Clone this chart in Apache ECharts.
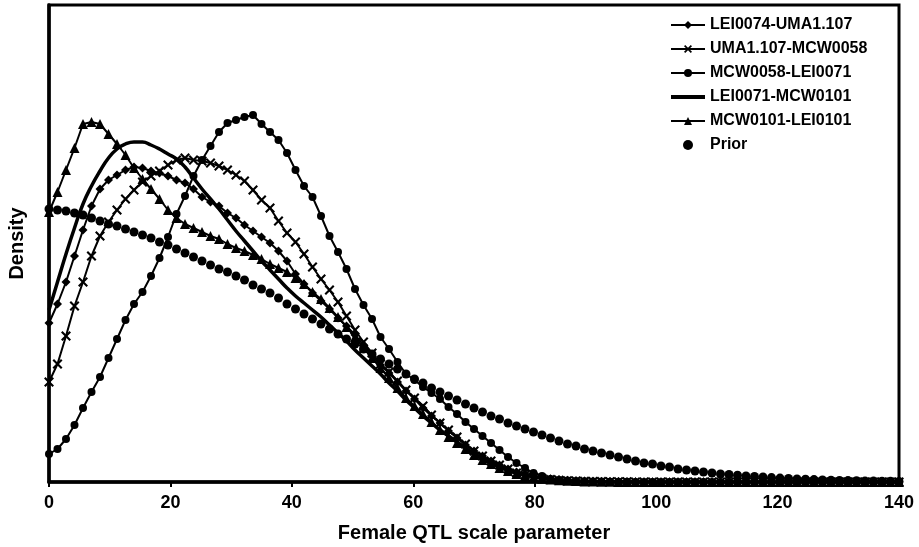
<!DOCTYPE html>
<html><head><meta charset="utf-8">
<script src="https://cdn.jsdelivr.net/npm/echarts@6/dist/echarts.min.js"></script>
<style>html,body{margin:0;padding:0;background:#fff}#c{width:919px;height:547px}</style>
</head><body><div id="c"></div>
<script>
// x positions (Female QTL scale parameter)
const xValues = [0,1.4,2.8,4.2,5.6,7,8.4,9.8,11.2,12.6,14,15.4,16.8,18.2,19.6,21,22.4,23.8,25.2,26.6,28,29.4,30.8,32.2,33.6,35,36.4,37.8,39.2,40.6,42,43.4,44.8,46.2,47.6,49,50.4,51.8,53.2,54.6,56,57.4,58.8,60.2,61.6,63,64.4,65.8,67.2,68.6,70,71.4,72.8,74.2,75.6,77,78.4,79.8,81.2,82.6,84,85.4,86.8,88.2,89.6,91,92.4,93.8,95.2,96.6,98,99.4,100.8,102.2,103.6,105,106.4,107.8,109.2,110.6,112,113.4,114.8,116.2,117.6,119,120.4,121.8,123.2,124.6,126,127.4,128.8,130.2,131.6,133,134.4,135.8,137.2,138.6,140];
const xTicks = [0,20,40,60,80,100,120,140];
const seriesNames = ['LEI0074-UMA1.107','UMA1.107-MCW0058','MCW0058-LEI0071','LEI0071-MCW0101','MCW0101-LEI0101','Prior'];

// densities (arbitrary units)
const lei0074_uma1107 = [159,178,200,226,252,276,293,302,307,312,
 315,314,311,309,306,302,299,293,285,280,
 276,269,264,257,251,245,239,231,221,208,
 198,189,181,173,164,156,147,137,127,117,
 109,100,91,83,74,66,59,51,44,37,
 31,26,21,17,13,10,8,6,4.5,3.3,
 2.4,1.8,1.3,1.0,0.8,0.6,0.5,0.4,0.3,0.3,
 0,0,0,0,0,0,0,0,0,0,0,0,0,0,0,0,0,0,0,0,0,0,0,0,0,0,0,0,0,0,0];
const uma1107_mcw0058 = [100,118,146,176,200,226,246,260,272,283,
 292,300,306,311,317,322,324,322,321,319,
 316,312,307,301,292,282,274,261,249,240,
 228,215,203,192,180,166,152,140,129,118,
 110,101,92,84,76,67,59,52,45,38,
 31,26,21,17,13,9,7,5,3.6,2.6,
 1.8,1.3,0.9,0.7,0.5,0.4,0.3,0.2,0.2,0.1,
 0,0,0,0,0,0,0,0,0,0,0,0,0,0,0,0,0,0,0,0,0,0,0,0,0,0,0,0,0,0,0];
const mcw0058_lei0071 = [28,33,43,57,74,90,105,124,143,162,
 178,190,206,224,245,268,286,306,322,336,
 350,359,362,365,367,358,350,342,329,312,
 296,285,266,246,230,213,193,177,163,145,
 133,120,108,102,95,89,83,75,68,60,
 53,46,39,32,25,19,14,9,6,3,
 2,1.5,1,0.8,0.5,0.4,0.3,0.2,0.2,0.1,
 0,0,0,0,0,0,0,0,0,0,0,0,0,0,0,0,0,0,0,0,0,0,0,0,0,0,0,0,0,0,0];
const lei0071_mcw0101 = [172,200,228,254,278,296,311,324,333,338,
 340,340,337,333,328,323,315,304,293,283,
 273,262,251,241,231,221,212,203,194,186,
 179,172,165,157,149,141,132,124,116,108,
 99,91,82,74,66,59,52,46,40,34,
 28,23,19,15,12,9,7,5,4,3,
 2.2,1.6,1.2,0.9,0.6,0.4,0.3,0.2,0.1,0.1,
 0,0,0,0,0,0,0,0,0,0,0,0,0,0,0,0,0,0,0,0,0,0,0,0,0,0,0,0,0,0,0];
const mcw0101_lei0101 = [270,290,312,334,358,360,358,348,338,327,
 314,303,293,283,272,264,258,254,250,246,
 243,238,234,231,227,223,218,214,210,204,
 198,190,183,174,165,155,145,134,124,114,
 104,94,84,76,68,60,52,45,39,33,
 27,22,18,14,11,8,6,4.5,3.3,2.4,
 1.7,1.2,0.9,0.6,0.4,0.3,0.2,0.1,0.1,0.1,
 0,0,0,0,0,0,0,0,0,0,0,0,0,0,0,0,0,0,0,0,0,0,0,0,0,0,0,0,0,0,0];
const prior = [273,272,271,269,267,264,261,258,256,253,
 250,247,244,240,237,233,229,225,221,217,
 213,210,206,202,197,193,189,184,178,173,
 168,163,158,153,148,143,138,133,128,123,
 118,113,108,103,99,94,90,86,82,78,
 74,70,66,63,59,56,53,50,47,44,
 41,38,36,33,31,29,27,25,23,21,
 19,18,16,15,13,12,11,10,9,8,
 7.5,6.8,6.1,5.5,5,4.4,3.9,3.5,3.1,2.7,
 2.4,2.1,1.8,1.6,1.4,1.2,1.0,0.9,0.8,0.7,0.6];

function pairs(ys){ return xValues.map((x,i)=>[x, ys[i]]); }
const FONT = 'Liberation Sans';
const crossPath = 'path://M0,1.5L1.5,0L5,3.5L8.5,0L10,1.5L6.5,5L10,8.5L8.5,10L5,6.5L1.5,10L0,8.5L3.5,5Z';
function lineSeries(name, ys, symbol, size, width){
  return {name, type:'line', data:pairs(ys), symbol, symbolSize:size, showAllSymbol:true,
    lineStyle:{color:'#000', width}, itemStyle:{color:'#000', opacity:1}, emphasis:{disabled:true}};
}
const legendData = seriesNames.map(n => n === 'LEI0071-MCW0101'
  ? {name:n, icon:'path://M0,0H33V4H0Z', itemStyle:{color:'#000'}}
  : {name:n});
const chart = echarts.init(document.getElementById('c'), null, {renderer:'canvas'});
chart.setOption({
  animation:false,
  backgroundColor:'#fff',
  grid:{left:49, right:20, top:5, bottom:65, show:true, borderColor:'#000', borderWidth:3, containLabel:false, outerBoundsMode:'none'},
  legend:{
    orient:'vertical', left:670, top:17, padding:0, itemWidth:34, itemHeight:10, itemGap:8,
    data:legendData,
    textStyle:{fontFamily:FONT, fontWeight:'bold', fontSize:16, color:'#000', lineHeight:16}
  },
  xAxis:{
    type:'value', min:0, max:140, interval:20,
    name:'Female QTL scale parameter', nameLocation:'middle', nameGap:41,
    nameTextStyle:{fontFamily:FONT, fontWeight:'bold', fontSize:20, color:'#000'},
    axisLine:{show:true, onZero:false, lineStyle:{color:'#000', width:3.5}},
    axisTick:{show:true, length:5, lineStyle:{color:'#000', width:2}},
    axisLabel:{fontFamily:FONT, fontWeight:'bold', fontSize:18, color:'#000', margin:12,
      formatter:v=> xTicks.indexOf(v)>=0 ? String(v) : ''},
    splitLine:{show:false}
  },
  yAxis:{
    type:'value', min:0, max:477,
    name:'Density', nameLocation:'middle', nameGap:22,
    nameTextStyle:{fontFamily:FONT, fontWeight:'bold', fontSize:20, color:'#000'},
    axisLine:{show:true, lineStyle:{color:'#000', width:3.5}},
    axisTick:{show:false}, axisLabel:{show:false}, splitLine:{show:false}
  },
  series:[
    {type:'scatter', name:'Prior', data:pairs(prior), symbol:'circle', symbolSize:9,
      itemStyle:{color:'#000', opacity:1}, emphasis:{disabled:true}, z:2},
    lineSeries(seriesNames[0], lei0074_uma1107, 'diamond', 9, 2),
    lineSeries(seriesNames[1], uma1107_mcw0058, crossPath, 10, 2),
    lineSeries(seriesNames[2], mcw0058_lei0071, 'circle', 8, 2),
    Object.assign(lineSeries(seriesNames[3], lei0071_mcw0101, 'none', 0, 3.5), {smooth:true}),
    lineSeries(seriesNames[4], mcw0101_lei0101, 'triangle', 10, 2)
  ]
});
</script></body></html>
